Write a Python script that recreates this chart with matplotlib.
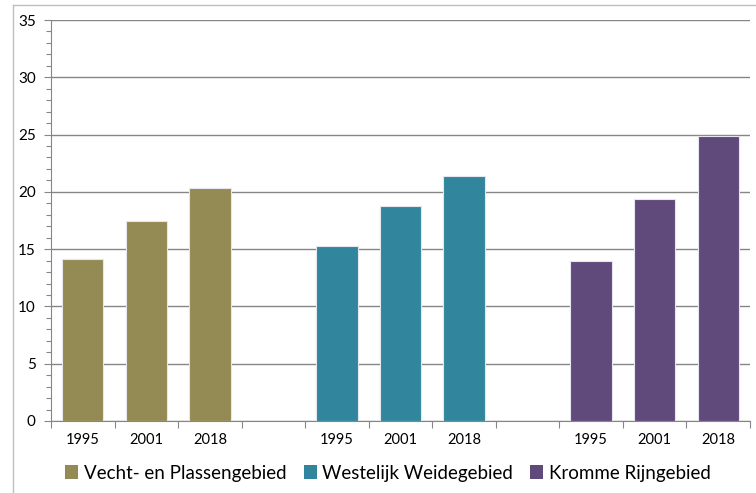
import numpy as np
import matplotlib.pyplot as plt
from matplotlib.lines import Line2D
from matplotlib.patches import Patch

# Data per region, one value per year
regions = ['Vecht- en Plassengebied', 'Westelijk Weidegebied', 'Kromme Rijngebied']
years = ['1995', '2001', '2018']
vecht = [14.1, 17.5, 20.3]
westelijk = [15.3, 18.75, 21.4]
kromme = [13.95, 19.35, 24.85]
colors = ['#948A54', '#31859C', '#604A7B']

plt.rcParams['font.family'] = ['Lato', 'DejaVu Sans']

fig = plt.figure(figsize=(7.56, 4.93), dpi=100)
ax = fig.add_axes([51 / 756, 72 / 493, 699 / 756, 401 / 493])

# three groups of three bars with one empty slot between groups
series = [vecht, westelijk, kromme]
labels_pos = []
labels_txt = []
for g, vals in enumerate(series):
    x = np.arange(len(years)) + g * (len(years) + 1)
    ax.bar(x, vals, width=0.65, color=colors[g], edgecolor='#E6E6EE',
           linewidth=0.8, zorder=3)
    labels_pos += list(x)
    labels_txt += years

n_slots = len(series) * (len(years) + 1) - 1
ax.set_xlim(-0.5, n_slots - 0.5)
ax.set_ylim(0, 35)

# category boundary ticks, year labels centred in slots
ax.set_xticks(np.arange(-0.5, n_slots, 1.0))
ax.set_xticklabels([])
ax.set_xticks(labels_pos, minor=True)
ax.set_xticklabels(labels_txt, minor=True)
ax.tick_params(axis='x', which='major', length=5, width=0.8, color='#868686', direction='out')
ax.tick_params(axis='x', which='minor', length=0, pad=9, labelsize=10.5)

ax.set_yticks(np.arange(0, 36, 5))
ax.set_yticks(np.arange(0, 36, 1), minor=True)
ax.tick_params(axis='y', which='major', length=5, width=0.8, color='#868686', pad=6, labelsize=11)
ax.tick_params(axis='y', which='minor', length=3.5, width=0.8, color='#868686')

ax.grid(axis='y', which='major', color='#868686', linewidth=1.0, zorder=0)
for side in ['top', 'right']:
    ax.spines[side].set_visible(False)
for side in ['left', 'bottom']:
    ax.spines[side].set_color('#868686')
    ax.spines[side].set_linewidth(0.8)

# legend along the bottom
handles = [Patch(facecolor=c, edgecolor='none') for c in colors]
fig.legend(handles, regions, loc='center', bbox_to_anchor=(388 / 756, 20 / 493),
           ncol=3, frameon=False, fontsize=13.5, handlelength=0.7, handleheight=0.7,
           handletextpad=0.3, columnspacing=0.9)

# outer chart border
fig.add_artist(Line2D([13 / 756, 13 / 756], [0, 1 - 5 / 493], color='#BFBFBF', linewidth=1.0))
fig.add_artist(Line2D([13 / 756, 1], [1 - 5 / 493, 1 - 5 / 493], color='#BFBFBF', linewidth=1.0))

fig.savefig('out.png', dpi=100)
